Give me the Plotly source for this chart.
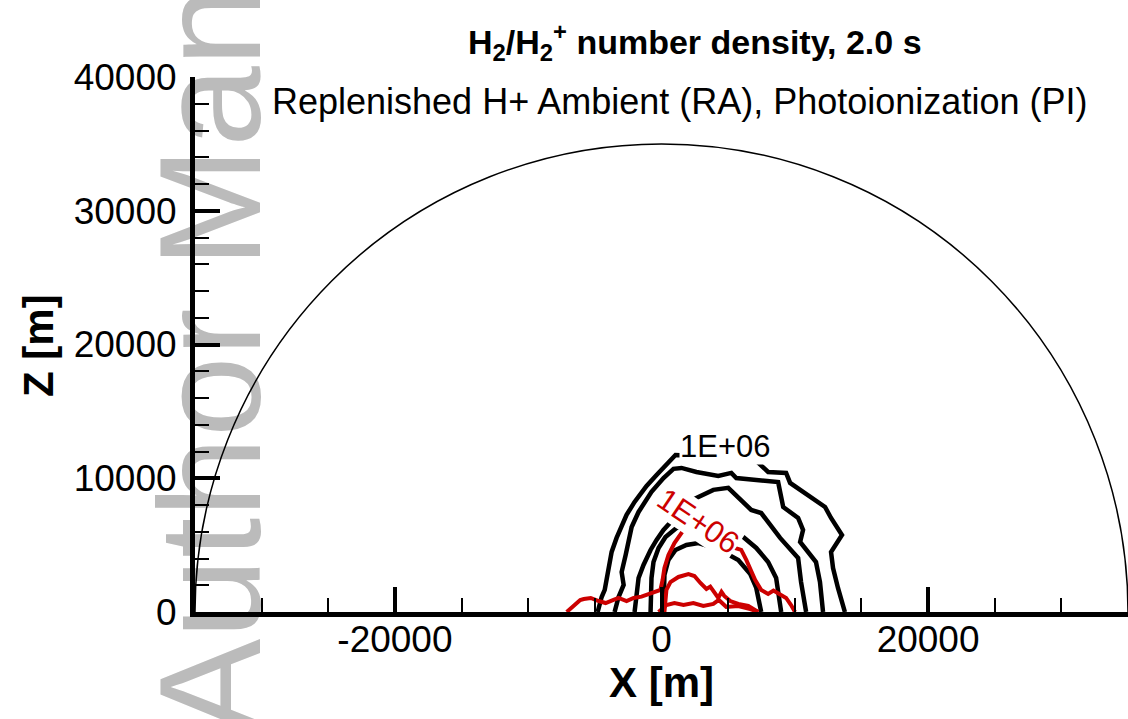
import plotly.graph_objects as go

# ---------------- data ----------------
R_DOMAIN = 35000                      # radius of the semicircular domain [m]
X_RANGE = [-35000, 35000]
Y_RANGE = [0, 40000]

x_tickvals = [-20000, 0, 20000]
x_ticktext = ["-20000", "0", "20000"]
y_tickvals = [0, 10000, 20000, 30000, 40000]
y_ticktext = ["0", "10000", "20000", "30000", "40000"]

# black contours (H2), outermost -> innermost
contA_x = [-4790, -4490, -4260, -4110, -3960, -3740, -3370, -2990, -2620, -2020, -1120, -370, 370, 1050,
           4000, 7030, 8000, 9350, 9650, 11000, 12270, 12720, 13540, 12720, 12870, 13240, 13760]
contA_y = [0, 1120, 1650, 2390, 3520, 4490, 5540, 6510, 7260, 8230, 9430, 10250, 11000, 11740,
           11600, 11370, 10470, 10400, 9650, 8750, 7850, 7030, 5760, 4490, 3290, 1800, 0]

contB_x = [-3520, -3220, -2840, -2990, -2690, -2470, -2240, -1720, -750, 150, 900, 1500, 2620, 4260,
           5240, 5610, 7260, 8750, 9130, 10250, 10620, 10400, 11590, 11890, 12120]
contB_y = [0, 1120, 2020, 2990, 4260, 5390, 6360, 7480, 8980, 10020, 10700, 10770, 10470, 10170,
           10400, 10020, 9870, 9720, 7850, 7030, 6130, 5240, 3740, 2240, 0]

contC_x = [-2020, -1870, -1720, -1350, -820, -370, 150, 970, 2020, 2770, 3890, 5010, 6730, 7480,
           8380, 8900, 10250, 10470, 10850]
contC_y = [0, 1500, 2540, 3520, 4640, 5390, 6130, 7030, 8230, 8600, 9130, 9280, 7630, 7400,
           6280, 5540, 4040, 2240, 0]

contD_x = [-820, -820, -750, -600, -220, 300, 1120, 2390, 3890, 5160, 6130, 7110, 8000, 8600, 8980]
contD_y = [0, 1650, 2540, 3740, 4790, 5610, 6280, 6730, 6660, 6130, 5610, 4790, 3740, 2540, 0]

contE_x = [150, 150, 220, 520, 1050, 1870, 2770, 4260, 5760, 6660, 7110, 7480]
contE_y = [0, 1650, 2770, 3890, 4640, 5010, 5160, 4710, 3890, 2840, 1800, 0]

# red contours (H2+)
red1_x = [-7110, -6580, -6100, -5830, -5310, -4710, -4190, -3600, -3220, -2620, -2090, -1500, -1120,
          -600, -80, 80, 220, 520, 970, 1650, 2770, 4260, 5980, 6360, 6660, 7030, 7480, 8000,
          8400, 8750, 9350, 9720, 10020]
red1_y = [0, 520, 900, 970, 1050, 820, 670, 900, 1050, 820, 1050, 1150, 1270,
          1500, 1650, 2390, 3290, 4260, 5160, 6130, 5760, 5160, 4640, 3890, 3140, 2390, 1650, 1350,
          1600, 1420, 1050, 520, 0]

red2_x = [220, 300, 370, 670, 1270, 2020, 2470, 2920, 3370, 3660, 3960, 4260, 4500, 4710, 5160, 5760,
          6510, 7260]
red2_y = [0, 900, 1650, 2240, 2620, 2840, 2690, 2170, 1720, 1900, 1500, 1050, 1500, 1200, 820, 600,
          450, 0]

red3_x = [-220, 370, 970, 1650, 2390, 3140, 3890, 4300, 4860, 5760, 6660, 7260]
red3_y = [0, 520, 670, 520, 670, 450, 600, 900, 370, 450, 220, 0]

black_label = "1E+06"
black_label_pos = (4800, 12400)
red_label = "1E+06"
red_label_pos = (2800, 6800)
red_label_angle = 34

title_text = "<b>H<sub>2</sub>/H<sub>2</sub><sup>+</sup> number density, 2.0 s</b>"
subtitle_text = "Replenished H+ Ambient (RA), Photoionization (PI)"
watermark_text = "Author Manuscript"

# ---------------- figure ----------------
FONT = "Liberation Sans, Arial, Helvetica, sans-serif"
BLACK = "#000000"
RED = "#cc0000"

fig = go.Figure()

for xs, ys in [(contA_x, contA_y), (contB_x, contB_y), (contC_x, contC_y),
               (contD_x, contD_y), (contE_x, contE_y)]:
    fig.add_trace(go.Scatter(x=xs, y=ys, mode="lines",
                             line=dict(color=BLACK, width=4.5), hoverinfo="skip"))

for xs, ys in [(red1_x, red1_y), (red2_x, red2_y), (red3_x, red3_y)]:
    fig.add_trace(go.Scatter(x=xs, y=ys, mode="lines",
                             line=dict(color=RED, width=4), hoverinfo="skip"))

# domain boundary (semicircle)
fig.add_shape(type="circle", xref="x", yref="y",
              x0=-R_DOMAIN, x1=R_DOMAIN, y0=-R_DOMAIN, y1=R_DOMAIN,
              line=dict(color=BLACK, width=1.5), layer="above")

# watermark (below everything)
fig.add_shape(type="rect", xref="paper", yref="paper",
              x0=-0.016, x1=0.018, y0=0.849, y1=0.889,
              line=dict(width=0), fillcolor="rgba(0,0,0,0)", layer="below",
              label=dict(text=watermark_text, textangle=-90, textposition="middle center",
                         font=dict(family=FONT, size=145, color="#bbbbbb")))

# contour labels
fig.add_annotation(x=black_label_pos[0], y=black_label_pos[1], xref="x", yref="y",
                   text=black_label, showarrow=False, bgcolor="white", borderpad=0,
                   font=dict(family=FONT, size=31, color=BLACK))
fig.add_annotation(x=red_label_pos[0], y=red_label_pos[1], xref="x", yref="y",
                   text=red_label, showarrow=False, bgcolor="white", borderpad=0,
                   textangle=red_label_angle,
                   font=dict(family=FONT, size=31, color=RED))

# titles
fig.add_annotation(x=0.536, y=1.0654, xref="paper", yref="paper", text=title_text,
                   showarrow=False, xanchor="center", yanchor="middle",
                   font=dict(family=FONT, size=34, color=BLACK))
fig.add_annotation(x=0.5198, y=0.9533, xref="paper", yref="paper", text=subtitle_text,
                   showarrow=False, xanchor="center", yanchor="middle",
                   font=dict(family=FONT, size=36, color=BLACK))
fig.add_annotation(x=0.5005, y=-0.1327, xref="paper", yref="paper", text="<b>X [m]</b>",
                   showarrow=False, xanchor="center", yanchor="middle",
                   font=dict(family=FONT, size=42, color=BLACK))
fig.add_annotation(x=-0.1683, y=0.499, xref="paper", yref="paper", text="<b>Z [m]</b>",
                   showarrow=False, xanchor="center", yanchor="middle", textangle=-90,
                   font=dict(family=FONT, size=42, color=BLACK))

fig.update_xaxes(range=X_RANGE, showgrid=False, zeroline=False,
                 showline=True, linecolor=BLACK, linewidth=5,
                 tickmode="array", tickvals=x_tickvals, ticktext=x_ticktext,
                 ticks="inside", ticklen=25, tickwidth=4, tickcolor=BLACK,
                 ticklabelstandoff=-9,
                 tickfont=dict(family=FONT, size=37, color=BLACK),
                 minor=dict(dtick=5000, tick0=0, ticks="inside", ticklen=14,
                            tickwidth=1.5, tickcolor=BLACK, showgrid=False))
fig.update_yaxes(range=Y_RANGE, showgrid=False, zeroline=False,
                 showline=True, linecolor=BLACK, linewidth=5,
                 tickmode="array", tickvals=y_tickvals, ticktext=y_ticktext,
                 ticks="inside", ticklen=25, tickwidth=4, tickcolor=BLACK,
                 ticklabelstandoff=6,
                 tickfont=dict(family=FONT, size=37, color=BLACK),
                 minor=dict(dtick=2000, tick0=0, ticks="inside", ticklen=14,
                            tickwidth=1.5, tickcolor=BLACK, showgrid=False))

fig.update_layout(width=1128, height=719,
                  margin=dict(l=195, r=0, t=77, b=107, autoexpand=False),
                  paper_bgcolor="white", plot_bgcolor="rgba(0,0,0,0)",
                  showlegend=False)

fig.write_html("out.html")
